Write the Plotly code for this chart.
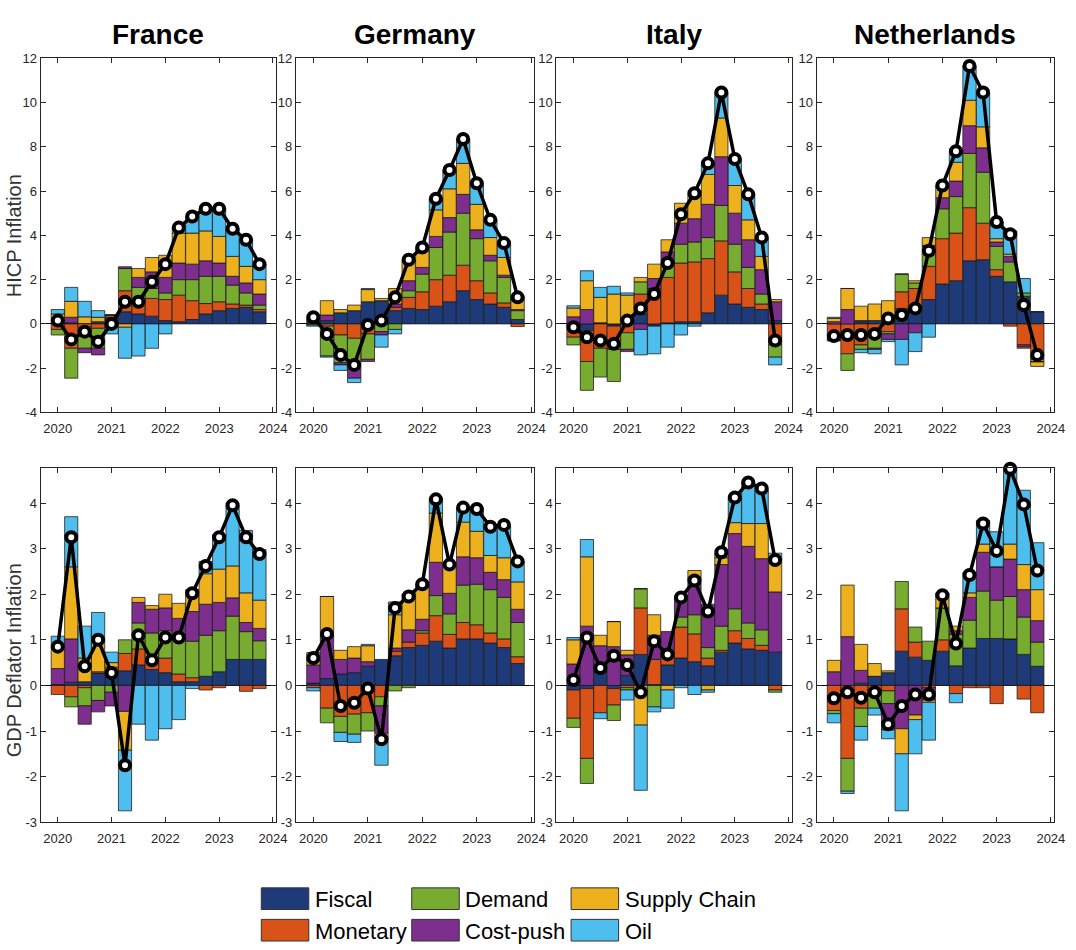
import plotly.graph_objects as go
from plotly.subplots import make_subplots

# ---------------- categories / ticks ----------------
QUARTERS = [2020.0, 2020.25, 2020.5, 2020.75, 2021.0, 2021.25, 2021.5, 2021.75,
            2022.0, 2022.25, 2022.5, 2022.75, 2023.0, 2023.25, 2023.5, 2023.75]
COUNTRIES = ["France", "Germany", "Italy", "Netherlands"]
COMPONENTS = ["Fiscal", "Monetary", "Demand", "Cost-push", "Supply Chain", "Oil"]
YEAR_TICKS = [2020, 2021, 2022, 2023, 2024]
YEAR_TICKTEXT = ["2020", "2021", "2022", "2023", "2024"]
HICP_TICKS = [-4, -2, 0, 2, 4, 6, 8, 10, 12]
HICP_TICKTEXT = ["-4", "-2", "0", "2", "4", "6", "8", "10", "12"]
GDP_TICKS = [-3, -2, -1, 0, 1, 2, 3, 4]
GDP_TICKTEXT = ["-3", "-2", "-1", "0", "1", "2", "3", "4"]

# ---------------- HICP inflation decompositions ----------------
FR_HICP_FISCAL = [0.05, 0.05, 0.02, 0.1, 0.3, 0.55, 0.45, 0.35, 0.15, 0.1, 0.2, 0.45, 0.6, 0.7, 0.75, 0.55]
FR_HICP_MONETARY = [-0.25, -1.1, -0.15, -0.2, 0.1, 0.95, 0.55, 0.8, 0.95, 1.2, 0.85, 0.47, 0.4, 0.2, 0.1, 0.1]
FR_HICP_DEMAND = [-0.25, -1.35, -0.95, -0.9, 0.0, 1.0, 0.65, 0.45, 0.3, 0.7, 0.95, 1.23, 1.15, 0.85, 0.55, 0.2]
FR_HICP_COSTPUSH = [0.1, 0.25, -0.2, -0.3, -0.15, 0.08, 0.45, 0.75, 0.7, 0.75, 0.7, 0.7, 0.6, 0.4, 0.45, 0.5]
FR_HICP_SUPPLY = [0.3, 0.72, 0.3, 0.2, 0.0, -0.15, 0.4, 0.65, 1.0, 1.35, 1.4, 1.35, 1.2, 0.9, 0.75, 0.65]
FR_HICP_OIL = [0.2, 0.63, 0.7, 0.3, -0.3, -1.4, -1.45, -1.1, -0.45, 0.25, 0.75, 1.0, 1.25, 1.25, 1.2, 0.7]
FR_HICP_TOTAL = [0.15, -0.7, -0.35, -0.8, 0.0, 1.0, 1.0, 1.9, 2.7, 4.35, 4.85, 5.2, 5.2, 4.3, 3.8, 2.7]

DE_HICP_FISCAL = [0.05, 0.15, 0.5, 0.6, 1.0, 1.05, 0.6, 0.7, 0.65, 0.8, 1.0, 1.5, 1.1, 0.9, 0.75, 0.2]
DE_HICP_MONETARY = [-0.05, -0.1, -0.5, -0.65, -0.45, 0.0, 0.15, 0.5, 0.8, 1.2, 1.2, 1.15, 0.85, 0.5, 0.2, -0.12]
DE_HICP_DEMAND = [0.05, -1.35, -1.25, -1.4, -1.15, -0.35, -0.25, 0.3, 0.8, 1.45, 1.95, 2.35, 1.9, 1.45, 1.15, 0.4]
DE_HICP_COSTPUSH = [0.1, 0.25, -0.1, -0.4, -0.1, -0.15, 0.15, 0.45, 0.3, 0.5, 0.65, 0.85, 0.4, 0.25, 0.1, 0.05]
DE_HICP_SUPPLY = [0.1, 0.65, 0.15, 0.25, 0.55, 0.1, 0.7, 0.9, 0.75, 1.2, 1.3, 1.4, 1.15, 0.8, 0.8, 0.4]
DE_HICP_OIL = [-0.05, -0.05, -0.25, -0.2, 0.05, -0.55, -0.2, 0.05, 0.15, 0.5, 0.85, 1.1, 0.95, 0.8, 0.65, 0.2]
DE_HICP_TOTAL = [0.3, -0.45, -1.4, -1.85, -0.05, 0.15, 1.2, 2.9, 3.45, 5.65, 6.95, 8.35, 6.35, 4.7, 3.65, 1.2]

IT_HICP_FISCAL = [0.02, -0.3, 0.05, -0.1, 0.0, 0.45, -0.1, 0.05, 0.1, 0.1, 0.5, 1.3, 0.9, 0.75, 0.65, 0.15]
IT_HICP_MONETARY = [-0.6, -1.4, -1.1, -1.05, -0.4, 0.9, 1.55, 2.05, 2.65, 2.7, 2.45, 2.45, 1.45, 0.85, 0.25, -0.95]
IT_HICP_DEMAND = [-0.35, -1.3, -1.3, -1.45, -0.75, 0.55, 0.05, 0.55, 0.85, 0.9, 0.95, 1.6, 1.25, 0.95, 0.45, -0.55]
IT_HICP_COSTPUSH = [0.3, 0.65, 0.0, 0.0, -0.1, -0.25, 0.45, 0.6, 0.95, 1.05, 1.5, 2.2, 1.4, 1.25, 1.1, 0.85]
IT_HICP_SUPPLY = [0.4, 1.3, 1.15, 1.35, 1.3, 0.2, 0.65, 0.55, 0.9, 1.15, 1.35, 1.75, 1.25, 0.9, 0.6, 0.1]
IT_HICP_OIL = [0.1, 0.45, 0.45, 0.35, 0.1, -1.15, -1.25, -1.05, -0.5, -0.1, 0.5, 1.15, 1.2, 1.15, 0.85, -0.35]
IT_HICP_TOTAL = [-0.15, -0.6, -0.75, -0.9, 0.15, 0.7, 1.35, 2.75, 4.95, 5.9, 7.25, 10.45, 7.45, 5.85, 3.9, -0.75]

NL_HICP_FISCAL = [0.0, 0.0, 0.1, 0.15, 0.15, 0.7, 0.65, 1.1, 1.8, 1.95, 2.85, 2.9, 2.15, 1.9, 1.25, 0.55]
NL_HICP_MONETARY = [-0.75, -1.35, -0.95, -0.3, -0.35, 0.75, 0.95, 1.5, 2.05, 2.15, 2.4, 1.65, 0.3, -0.1, -0.95, -1.6]
NL_HICP_DEMAND = [-0.02, -0.75, -0.2, -0.8, -0.1, 0.8, 0.25, 0.9, 1.35, 1.65, 2.45, 2.3, 1.05, 0.9, 0.15, -0.1]
NL_HICP_COSTPUSH = [0.1, 0.65, 0.05, -0.05, -0.25, -0.7, -0.4, 0.05, 0.5, 0.7, 1.25, 1.1, 0.2, 0.25, -0.1, -0.02]
NL_HICP_SUPPLY = [0.15, 0.95, 0.65, 0.75, 0.9, 0.0, 0.1, 0.35, 0.45, 0.85, 1.15, 0.95, 0.15, 0.1, -0.05, -0.2]
NL_HICP_OIL = [0.05, 0.0, -0.15, -0.2, -0.1, -1.15, -0.85, -0.6, 0.1, 0.5, 1.55, 1.55, 0.75, 1.05, 0.65, 0.0]
NL_HICP_TOTAL = [-0.55, -0.5, -0.5, -0.45, 0.25, 0.4, 0.7, 3.3, 6.25, 7.8, 11.65, 10.45, 4.6, 4.05, 0.85, -1.4]

# ---------------- GDP deflator inflation decompositions ----------------
FR_GDP_FISCAL = [0.02, 0.07, 0.08, 0.27, 0.3, 0.32, 0.45, 0.35, 0.28, 0.08, 0.08, 0.2, 0.3, 0.57, 0.57, 0.57]
FR_GDP_MONETARY = [-0.2, -0.25, -0.05, 0.03, 0.1, 0.38, 0.35, 0.17, 0.32, 0.17, 0.09, -0.1, -0.05, 0.0, -0.13, -0.07]
FR_GDP_DEMAND = [0.0, -0.22, -0.4, -0.33, -0.15, 0.3, 0.57, 0.63, 0.6, 0.75, 0.8, 0.9, 0.9, 0.95, 0.61, 0.41]
FR_GDP_COSTPUSH = [0.35, 0.95, -0.4, -0.25, -0.3, -0.57, 0.45, 0.52, 0.5, 0.47, 0.65, 0.68, 0.62, 0.4, 0.2, 0.27]
FR_GDP_SUPPLY = [0.43, 1.58, 0.52, 0.65, 0.1, -0.85, 0.11, 0.08, 0.3, 0.33, 0.48, 0.67, 0.73, 0.7, 0.65, 0.62]
FR_GDP_OIL = [0.28, 1.1, 0.7, 0.65, 0.23, -1.33, -0.85, -1.2, -0.95, -0.75, -0.07, 0.27, 0.75, 1.33, 1.37, 1.11]
FR_GDP_TOTAL = [0.85, 3.25, 0.42, 1.0, 0.27, -1.75, 1.1, 0.55, 1.05, 1.05, 2.02, 2.62, 3.25, 3.95, 3.25, 2.88]

DE_GDP_FISCAL = [0.05, 0.15, 0.25, 0.28, 0.42, 0.57, 0.65, 0.83, 0.88, 0.97, 0.82, 1.02, 1.02, 0.93, 0.83, 0.48]
DE_GDP_MONETARY = [-0.05, -0.5, -0.68, -0.63, -0.6, -0.25, 0.1, 0.12, 0.27, 0.56, 0.3, 0.36, 0.31, 0.22, 0.19, 0.15]
DE_GDP_DEMAND = [0.0, -0.32, -0.35, -0.44, -0.4, -0.2, -0.12, -0.05, 0.05, 0.44, 0.45, 0.82, 0.89, 0.95, 0.91, 0.75]
DE_GDP_COSTPUSH = [0.4, 0.97, 0.32, 0.32, 0.1, -0.6, 0.07, 0.27, 0.25, 0.73, 0.45, 0.62, 0.58, 0.38, 0.39, 0.29]
DE_GDP_SUPPLY = [0.27, 0.83, 0.2, 0.25, 0.35, -0.2, 0.73, 0.73, 0.7, 1.08, 0.63, 0.76, 0.58, 0.37, 0.48, 0.6]
DE_GDP_OIL = [-0.07, 0.0, -0.2, -0.18, 0.03, -0.5, 0.28, 0.05, 0.07, 0.32, 0.0, 0.32, 0.52, 0.65, 0.7, 0.45]
DE_GDP_TOTAL = [0.6, 1.13, -0.45, -0.38, -0.07, -1.18, 1.7, 1.95, 2.22, 4.08, 2.65, 3.9, 3.87, 3.48, 3.52, 2.72]

IT_GDP_FISCAL = [-0.1, -0.07, 0.3, -0.07, 0.22, 0.68, 0.02, 0.45, 0.6, 0.52, 0.43, 0.73, 0.93, 0.8, 0.77, 0.73]
IT_GDP_MONETARY = [-0.62, -1.53, -0.6, -0.36, -0.05, 1.02, 0.55, 0.17, 0.68, 0.61, 0.17, 0.04, 0.27, 0.23, 0.11, -0.1]
IT_GDP_DEMAND = [-0.2, -0.55, 0.0, -0.34, -0.05, 0.42, -0.47, 0.0, 0.22, 0.42, 0.23, 0.53, 0.48, 0.34, 0.34, -0.05]
IT_GDP_COSTPUSH = [0.47, 1.3, 0.57, 0.85, 0.45, 0.0, 0.53, 0.56, 0.45, 0.83, 0.95, 1.35, 1.65, 1.68, 1.56, 1.32]
IT_GDP_SUPPLY = [0.53, 1.52, 0.23, 0.55, 0.1, -0.87, 0.45, -0.1, 0.0, 0.14, -0.1, 0.15, 0.24, 0.5, 0.77, 0.67]
IT_GDP_OIL = [0.05, 0.38, -0.13, 0.0, -0.22, -1.43, -0.11, -0.4, -0.05, -0.2, -0.05, 0.1, 0.55, 0.9, 0.75, 0.18]
IT_GDP_TOTAL = [0.12, 1.05, 0.38, 0.65, 0.45, -0.15, 0.97, 0.68, 1.93, 2.3, 1.62, 2.92, 4.12, 4.45, 4.32, 2.75]

NL_GDP_FISCAL = [0.0, 0.0, 0.05, 0.2, 0.28, 0.75, 0.62, 0.55, 0.75, 0.43, 0.82, 1.03, 1.03, 1.02, 0.68, 0.42]
NL_GDP_MONETARY = [-0.55, -1.6, -0.5, -0.1, -0.12, 0.93, 0.33, -0.05, 0.25, -0.18, -0.05, -0.05, -0.4, 0.0, -0.3, -0.6]
NL_GDP_DEMAND = [-0.07, -0.72, -0.4, -0.4, -0.28, 0.6, 0.33, 0.42, 0.7, 0.69, 0.61, 1.04, 0.84, 0.93, 0.82, 0.53]
NL_GDP_COSTPUSH = [0.3, 1.07, 0.28, 0.0, -0.58, -0.95, -0.65, -0.27, 0.0, 0.08, 0.5, 0.85, 0.73, 0.82, 0.6, 0.47]
NL_GDP_SUPPLY = [0.25, 1.13, 0.57, 0.28, 0.04, -0.55, -0.1, -0.05, 0.25, 0.1, 0.1, 0.18, 0.0, 0.33, 0.55, 0.68]
NL_GDP_OIL = [-0.2, -0.05, -0.3, -0.15, -0.19, -1.25, -0.75, -0.83, 0.07, -0.2, 0.45, 0.52, 0.77, 1.65, 1.63, 1.03]
NL_GDP_TOTAL = [-0.28, -0.15, -0.27, -0.15, -0.85, -0.45, -0.2, -0.2, 1.98, 0.92, 2.42, 3.55, 2.95, 4.75, 3.97, 2.52]

# ---------------- styles ----------------
COLORS = ["#1F3A78", "#D95319", "#77AC30", "#7E2F8E", "#EDB120", "#4DBEEE"]
FONT = "Liberation Sans, Arial, Helvetica, sans-serif"
AXIS_COLOR = "#262626"

PANELS = [
    (1, 1, [FR_HICP_FISCAL, FR_HICP_MONETARY, FR_HICP_DEMAND, FR_HICP_COSTPUSH, FR_HICP_SUPPLY, FR_HICP_OIL], FR_HICP_TOTAL),
    (1, 2, [DE_HICP_FISCAL, DE_HICP_MONETARY, DE_HICP_DEMAND, DE_HICP_COSTPUSH, DE_HICP_SUPPLY, DE_HICP_OIL], DE_HICP_TOTAL),
    (1, 3, [IT_HICP_FISCAL, IT_HICP_MONETARY, IT_HICP_DEMAND, IT_HICP_COSTPUSH, IT_HICP_SUPPLY, IT_HICP_OIL], IT_HICP_TOTAL),
    (1, 4, [NL_HICP_FISCAL, NL_HICP_MONETARY, NL_HICP_DEMAND, NL_HICP_COSTPUSH, NL_HICP_SUPPLY, NL_HICP_OIL], NL_HICP_TOTAL),
    (2, 1, [FR_GDP_FISCAL, FR_GDP_MONETARY, FR_GDP_DEMAND, FR_GDP_COSTPUSH, FR_GDP_SUPPLY, FR_GDP_OIL], FR_GDP_TOTAL),
    (2, 2, [DE_GDP_FISCAL, DE_GDP_MONETARY, DE_GDP_DEMAND, DE_GDP_COSTPUSH, DE_GDP_SUPPLY, DE_GDP_OIL], DE_GDP_TOTAL),
    (2, 3, [IT_GDP_FISCAL, IT_GDP_MONETARY, IT_GDP_DEMAND, IT_GDP_COSTPUSH, IT_GDP_SUPPLY, IT_GDP_OIL], IT_GDP_TOTAL),
    (2, 4, [NL_GDP_FISCAL, NL_GDP_MONETARY, NL_GDP_DEMAND, NL_GDP_COSTPUSH, NL_GDP_SUPPLY, NL_GDP_OIL], NL_GDP_TOTAL),
]

W, H = 1076, 950
COL_PX = [(41, 279), (299, 540), (562, 800), (825, 1065)]
ROW_PX = [(52, 412), (468.3, 828.3)]


def px_x(p):
    return p / W


def px_y(p):
    return 1 - p / H


fig = make_subplots(rows=2, cols=4)

for r, c, comps, total in PANELS:
    for name, vals, col in zip(COMPONENTS, comps, COLORS):
        fig.add_trace(go.Bar(
            x=QUARTERS, y=vals, name=name, width=0.245,
            marker=dict(color=col, line=dict(color="rgba(25,25,25,0.85)", width=0.9)),
            showlegend=False, hoverinfo="name+y"), row=r, col=c)
    fig.add_trace(go.Scatter(
        x=QUARTERS, y=total, mode="lines+markers", name="Total",
        line=dict(color="black", width=3.5),
        marker=dict(size=10, color="white", line=dict(color="black", width=4)),
        cliponaxis=False, showlegend=False), row=r, col=c)

fig.update_layout(barmode="relative", width=W, height=H,
                  margin=dict(l=0, r=0, t=0, b=0),
                  plot_bgcolor="white", paper_bgcolor="white",
                  font=dict(family=FONT, color=AXIS_COLOR))

for r in (1, 2):
    for c in (1, 2, 3, 4):
        idx = (r - 1) * 4 + c
        xa = "xaxis" if idx == 1 else f"xaxis{idx}"
        ya = "yaxis" if idx == 1 else f"yaxis{idx}"
        x0, x1 = COL_PX[c - 1]
        y0, y1 = ROW_PX[r - 1]
        fig.layout[xa].update(
            domain=[px_x(x0), px_x(x1)], range=[2019.68, 2024.06],
            tickvals=YEAR_TICKS, ticktext=YEAR_TICKTEXT,
            ticks="inside", ticklen=5, tickwidth=1, tickcolor=AXIS_COLOR,
            showline=True, linecolor=AXIS_COLOR, linewidth=1, mirror="allticks",
            showgrid=False, zeroline=False, ticklabelstandoff=4,
            tickfont=dict(size=13, color=AXIS_COLOR, family=FONT))
        if r == 1:
            yr, tv, tt = [-4, 12], HICP_TICKS, HICP_TICKTEXT
        else:
            yr, tv, tt = [-3, 4.77], GDP_TICKS, GDP_TICKTEXT
        fig.layout[ya].update(
            domain=[px_y(y1), px_y(y0)], range=yr,
            tickvals=tv, ticktext=tt,
            ticks="inside", ticklen=5, tickwidth=1, tickcolor=AXIS_COLOR,
            showline=True, linecolor=AXIS_COLOR, linewidth=1, mirror="allticks",
            showgrid=False, zeroline=True, zerolinecolor="black", zerolinewidth=1,
            tickfont=dict(size=13, color=AXIS_COLOR, family=FONT))

annotations = []
for (x0, x1), name in zip(COL_PX, COUNTRIES):
    annotations.append(dict(
        text=f"<b>{name}</b>", x=px_x((x0 + x1) / 2), y=px_y(28),
        xref="paper", yref="paper", xanchor="center", yanchor="middle",
        showarrow=False, font=dict(size=28, color="black", family=FONT)))

annotations.append(dict(text="HICP Inflation", x=px_x(14), y=px_y(232),
                        xref="paper", yref="paper", xanchor="center", yanchor="middle",
                        textangle=-90, showarrow=False,
                        font=dict(size=20, color="#333333", family=FONT)))
annotations.append(dict(text="GDP Deflator Inflation", x=px_x(14), y=px_y(664),
                        xref="paper", yref="paper", xanchor="center", yanchor="middle",
                        textangle=-90, showarrow=False,
                        font=dict(size=20, color="#333333", family=FONT)))

# custom legend (3 columns x 2 rows)
LEG_ORDER = [(0, 0), (1, 0), (0, 1), (1, 1), (0, 2), (1, 2)]  # (row, col) for each component
LEG_BOX_X = [264, 416, 577]
LEG_ROW_Y = [(895, 917), (927, 949)]
shapes = []
for (lr, lc), name, col in zip(LEG_ORDER, COMPONENTS, COLORS):
    bx0 = LEG_BOX_X[lc]
    by0, by1 = LEG_ROW_Y[lr]
    shapes.append(dict(type="rect", xref="paper", yref="paper",
                       x0=px_x(bx0), x1=px_x(bx0 + 48), y0=px_y(by1), y1=px_y(by0),
                       fillcolor=col, line=dict(color="#333333", width=1)))
    annotations.append(dict(text=name, x=px_x(bx0 + 52), y=px_y((by0 + by1) / 2 + 1),
                            xref="paper", yref="paper", xanchor="left", yanchor="middle",
                            showarrow=False, font=dict(size=22, color="black", family=FONT)))

fig.update_layout(annotations=annotations, shapes=shapes)

PAGE_FIX = (
    "document.documentElement.style.margin='0';"
    "document.documentElement.style.overflow='hidden';"
    "document.body.style.margin='0';"
    "document.body.style.overflow='hidden';"
    "var gd=document.getElementById('{plot_id}');"
    "gd.style.position='fixed';gd.style.left='0px';gd.style.top='0px';"
)
fig.write_html("out.html", config={"displayModeBar": False}, post_script=PAGE_FIX)
